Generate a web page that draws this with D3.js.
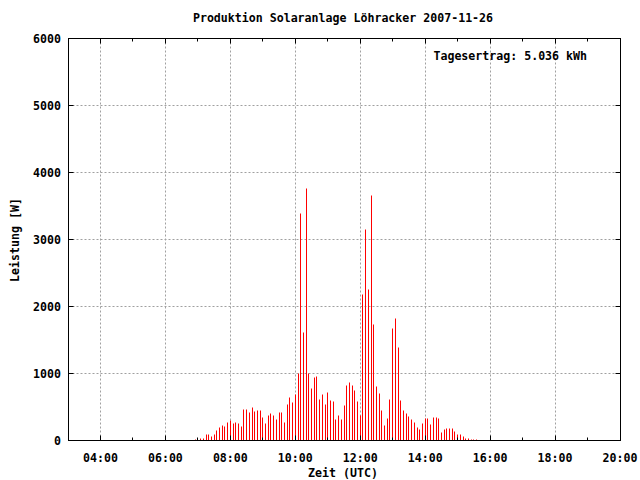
<!DOCTYPE html>
<html>
<head>
<meta charset="utf-8">
<script src="https://cdn.jsdelivr.net/npm/d3@7"></script>
<style>
  html, body { margin: 0; padding: 0; background: #fff; }
  svg text { font-family: "DejaVu Sans Mono", "Liberation Mono", monospace; font-weight: bold; font-size: 11.6px; fill: #000; }
</style>
</head>
<body>
<svg id="chart" width="640" height="480"></svg>
<script>
// ---- data ----
const titleText = "Produktion Solaranlage Löhracker 2007-11-26";
const xLabel = "Zeit (UTC)";
const yLabel = "Leistung [W]";
const totalText = "Tagesertrag: 5.036 kWh";

const times = [
  "06:55","07:00","07:05","07:10","07:15","07:20","07:25","07:30","07:35","07:40","07:45","07:50","07:55",
  "08:00","08:05","08:10","08:15","08:20","08:25","08:30","08:35","08:40","08:45","08:50","08:55",
  "09:00","09:05","09:10","09:15","09:20","09:25","09:30","09:35","09:40","09:45","09:50","09:55",
  "10:00","10:05","10:10","10:15","10:20","10:25","10:30","10:35","10:40","10:45","10:50","10:55",
  "11:00","11:05","11:10","11:15","11:20","11:25","11:30","11:35","11:40","11:45","11:50","11:55",
  "12:00","12:05","12:10","12:15","12:20","12:25","12:30","12:35","12:40","12:45","12:50","12:55",
  "13:00","13:05","13:10","13:15","13:20","13:25","13:30","13:35","13:40","13:45","13:50","13:55",
  "14:00","14:05","14:10","14:15","14:20","14:25","14:30","14:35","14:40","14:45","14:50","14:55",
  "15:00","15:05","15:10","15:15","15:20","15:25","15:30","15:35"
];
const power = [
  15,30,35,35,90,90,60,90,154,197,227,212,272,
  300,256,272,256,212,465,465,420,495,440,452,452,
  345,256,375,405,375,315,420,420,270,542,645,570,
  692,998,3382,1616,3755,1000,781,945,960,617,692,542,
  721,602,587,318,378,318,527,826,871,826,751,587,
  378,2184,3154,2258,3661,1736,811,706,452,228,333,617,
  1676,1825,1393,602,452,408,363,318,273,198,168,258,
  333,333,243,348,348,333,124,168,183,183,183,139,
  94,94,64,34,34,20,20,20
];
const xTickLabels = ["04:00","06:00","08:00","10:00","12:00","14:00","16:00","18:00","20:00"];
const yTickValues = [0,1000,2000,3000,4000,5000,6000];

// ---- helpers ----
const toHours = s => { const [h, m] = s.split(":").map(Number); return h + m / 60; };
const crisp = v => Math.round(v - 0.5) + 0.5;

const svg = d3.select("#chart");
const L = 68, R = 620, T = 38.5, B = 440.5;

const x = d3.scaleLinear().domain([3, 20]).range([L, R]);
const y = d3.scaleLinear().domain([0, 6000]).range([B, T]);

const data = times.map((t, i) => ({ h: toHours(t), v: power[i] }));
const majorHours = xTickLabels.map(toHours);
const minorHours = d3.range(3, 21, 1).filter(h => !majorHours.includes(h));

// grid
const grid = svg.append("g").attr("stroke", "#a0a0a0").attr("stroke-width", 1).attr("stroke-dasharray", "2,2");
grid.selectAll("line.gx").data(majorHours.filter(h => h < 20)).join("line")
  .attr("x1", d => crisp(x(d))).attr("x2", d => crisp(x(d)))
  .attr("y1", T).attr("y2", B);
grid.selectAll("line.gy").data(yTickValues.filter(v => v > 0 && v < 6000)).join("line")
  .attr("x1", crisp(x(3))).attr("x2", crisp(x(20)))
  .attr("y1", d => crisp(y(d))).attr("y2", d => crisp(y(d)));

// impulses
svg.append("g").selectAll("line").data(data).join("line")
  .attr("x1", d => crisp(x(d.h))).attr("x2", d => crisp(x(d.h)))
  .attr("y1", crisp(y(0))).attr("y2", d => crisp(y(d.v)))
  .attr("stroke", "#ff0000").attr("stroke-width", 1);

// border
svg.append("rect")
  .attr("x", crisp(x(3))).attr("y", crisp(y(6000)))
  .attr("width", crisp(x(20)) - crisp(x(3))).attr("height", crisp(y(0)) - crisp(y(6000)))
  .attr("fill", "none").attr("stroke", "#000").attr("stroke-width", 1);

// ticks (inward, mirrored)
const ticks = svg.append("g").attr("stroke", "#000").attr("stroke-width", 1);
const xb = crisp(y(0)), xt = crisp(y(6000));
majorHours.forEach(h => {
  const px = crisp(x(h));
  ticks.append("line").attr("x1", px).attr("x2", px).attr("y1", xb).attr("y2", xb - 5);
  ticks.append("line").attr("x1", px).attr("x2", px).attr("y1", xt).attr("y2", xt + 5);
});
minorHours.forEach(h => {
  const px = crisp(x(h));
  ticks.append("line").attr("x1", px).attr("x2", px).attr("y1", xb).attr("y2", xb - 3);
  ticks.append("line").attr("x1", px).attr("x2", px).attr("y1", xt).attr("y2", xt + 3);
});
const yl = crisp(x(3)), yr = crisp(x(20));
yTickValues.forEach(v => {
  const py = crisp(y(v));
  ticks.append("line").attr("x1", yl).attr("x2", yl + 5).attr("y1", py).attr("y2", py);
  ticks.append("line").attr("x1", yr).attr("x2", yr - 5).attr("y1", py).attr("y2", py);
});

// tick labels
svg.append("g").selectAll("text").data(yTickValues).join("text")
  .attr("x", 61).attr("y", d => y(d) + 4)
  .attr("text-anchor", "end").text(d => d);
svg.append("g").selectAll("text").data(xTickLabels).join("text")
  .attr("x", d => x(toHours(d))).attr("y", 462)
  .attr("text-anchor", "middle").text(d => d);

// titles
svg.append("text").attr("x", 343).attr("y", 22).attr("text-anchor", "middle").text(titleText);
svg.append("text").attr("x", 343).attr("y", 477).attr("text-anchor", "middle").text(xLabel);
svg.append("text").attr("transform", "translate(19,240) rotate(-90)").attr("text-anchor", "middle").text(yLabel);
svg.append("text").attr("x", 587).attr("y", 60).attr("text-anchor", "end").text(totalText);
</script>
</body>
</html>
